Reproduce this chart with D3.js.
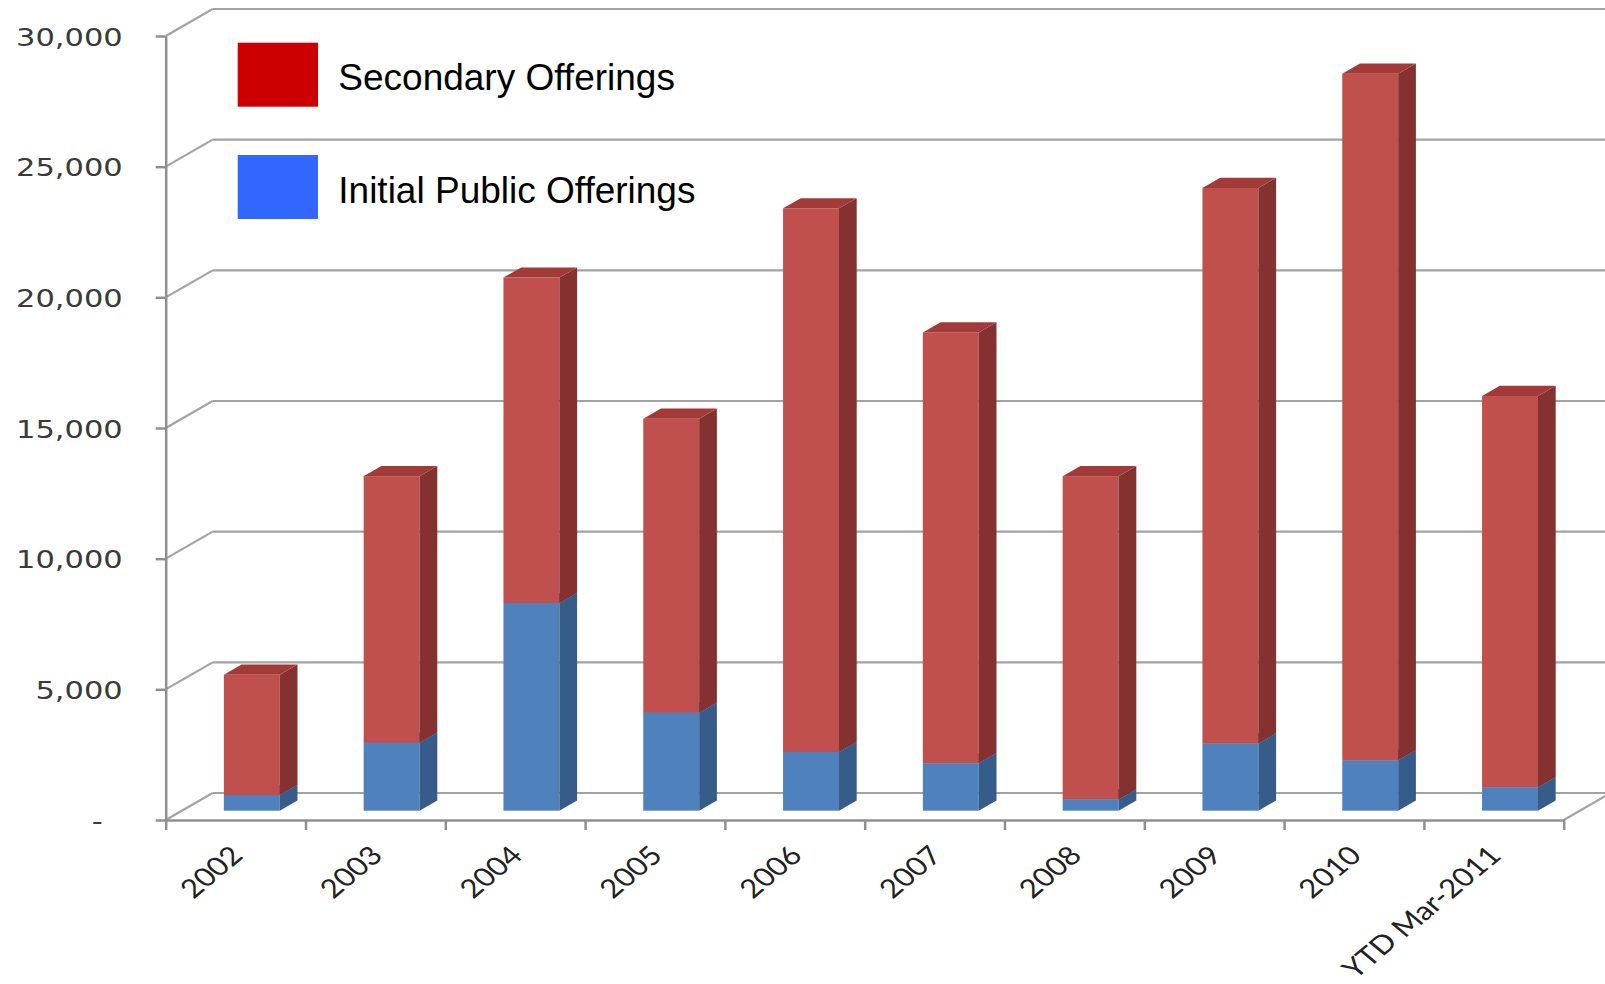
<!DOCTYPE html>
<html>
<head>
<meta charset="utf-8">
<script src="https://cdn.jsdelivr.net/npm/d3@7"></script>
<style>
  html, body { margin: 0; padding: 0; background: #ffffff; }
  svg { display: block; }
</style>
</head>
<body>
<svg id="chart" width="1605" height="984"></svg>
<script>
// ---- data ----
const categories = ["2002", "2003", "2004", "2005", "2006", "2007", "2008", "2009", "2010", "YTD Mar-2011"];
const ipoValues = [600, 2600, 7950, 3750, 2250, 1820, 430, 2570, 1930, 900];
const secondaryValues = [4600, 10200, 12450, 11250, 20800, 16480, 12370, 21260, 26270, 14970];
const seriesNames = ["Initial Public Offerings", "Secondary Offerings"];
const legendNames = ["Secondary Offerings", "Initial Public Offerings"];
const yTickValues = [0, 5000, 10000, 15000, 20000, 25000, 30000];

// ---- layout ----
const X0 = 165.7, X1 = 1563.7;      // front plane horizontal extent
const Y0 = 820, YT = 36;            // front plane zero / max
const DX = 47, DY = -27;            // depth vector of the 3D box
const D0 = 0.345, D1 = 0.722;       // bar depth range (fraction of box depth)

const svg = d3.select("#chart");

const y = d3.scaleLinear().domain([0, 30000]).range([Y0, YT]);
const x = d3.scaleBand().domain(categories).range([X0, X1]).paddingInner(0.6).paddingOuter(0.3);
const xEdge = d3.scaleLinear().domain([0, categories.length]).range([X0, X1]);

const gridColor = "#a3a3a3";

// back wall gridlines + side wall diagonals
const walls = svg.append("g");
yTickValues.forEach(v => {
  walls.append("line")
    .attr("x1", X0 + DX).attr("y1", y(v) + DY)
    .attr("x2", X1 + DX).attr("y2", y(v) + DY)
    .attr("stroke", gridColor).attr("stroke-width", 2.2);
  walls.append("line")
    .attr("x1", X0).attr("y1", y(v))
    .attr("x2", X0 + DX).attr("y2", y(v) + DY)
    .attr("stroke", gridColor).attr("stroke-width", 2.2);
});
// floor right edge
walls.append("line")
  .attr("x1", X1).attr("y1", Y0)
  .attr("x2", X1 + DX).attr("y2", Y0 + DY)
  .attr("stroke", gridColor).attr("stroke-width", 2.2);

// ---- bars ----
const rows = categories.map((c, i) => ({
  cat: c,
  "Initial Public Offerings": ipoValues[i],
  "Secondary Offerings": secondaryValues[i]
}));
const stack = d3.stack().keys(seriesNames);
const layers = stack(rows);

const palette = {
  "Initial Public Offerings": { front: "#4F81BD", side: "#365C8A", top: "#4270A8" },
  "Secondary Offerings": { front: "#C0504D", side: "#843130", top: "#A23B38" }
};

const bx = DX * D0, by = DY * D0;
const ddx = DX * (D1 - D0), ddy = DY * (D1 - D0);

const barsG = svg.append("g");
categories.forEach((c, i) => {
  const g = barsG.append("g");
  layers.forEach(layer => {
    const d = layer[i];
    const col = palette[layer.key];
    const xl = x(c) + bx, xr = x(c) + x.bandwidth() + bx;
    const yt = y(d[1]) + by, yb = y(d[0]) + by;
    g.append("rect")
      .attr("x", xl).attr("y", yt)
      .attr("width", xr - xl).attr("height", yb - yt)
      .attr("fill", col.front);
    g.append("path")
      .attr("d", `M${xr},${yt}L${xr + ddx},${yt + ddy}L${xr + ddx},${yb + ddy}L${xr},${yb}Z`)
      .attr("fill", col.side);
    g.append("path")
      .attr("d", `M${xl},${yt}L${xr},${yt}L${xr + ddx},${yt + ddy}L${xl + ddx},${yt + ddy}Z`)
      .attr("fill", col.top);
  });
});

// ---- y axis ----
const axisColor = "#8f8f8f";
const yAxis = d3.axisLeft(y)
  .tickValues(yTickValues)
  .tickSize(10)
  .tickSizeOuter(0)
  .tickFormat(v => v === 0 ? "-" : d3.format(",")(v));
const yG = svg.append("g")
  .attr("transform", `translate(${X0},0)`)
  .call(yAxis);
yG.select(".domain").attr("stroke", axisColor).attr("stroke-width", 2.5);
yG.selectAll(".tick line").attr("stroke", axisColor).attr("stroke-width", 2.5);
yG.selectAll(".tick text")
  .attr("font-family", "'DejaVu Sans', Verdana, sans-serif")
  .attr("font-size", 25)
  .attr("fill", "#3a3a3a")
  .attr("text-anchor", "end")
  .attr("dy", "0.36em")
  .attr("x", v => v === 0 ? -63 / 1.22 : -43 / 1.22)
  .attr("transform", "scale(1.22,1)");

// ---- x axis (ticks at category edges) ----
const xAxis = d3.axisBottom(xEdge)
  .tickValues(d3.range(categories.length + 1))
  .tickSize(10)
  .tickSizeOuter(0)
  .tickFormat("");
const xG = svg.append("g")
  .attr("transform", `translate(0,${Y0})`)
  .call(xAxis);
xG.select(".domain").attr("stroke", axisColor).attr("stroke-width", 2.5);
xG.selectAll(".tick line").attr("stroke", axisColor).attr("stroke-width", 2.5);

// category labels
const labG = svg.append("g");
categories.forEach(c => {
  const cx = x(c) + x.bandwidth() / 2;
  labG.append("text")
    .attr("transform", `translate(${cx + 9},${857}) scale(1.2,1) rotate(-45)`)
    .attr("text-anchor", "end")
    .attr("font-family", "Lato, 'Open Sans', sans-serif")
    .attr("font-size", 26)
    .attr("fill", "#222")
    .text(c);
});

// ---- legend ----
const legColors = ["#CC0000", "#3366FF"];
const legG = svg.append("g");
legendNames.forEach((name, i) => {
  const top = 42.7 + i * 112.3;
  legG.append("rect")
    .attr("x", 237.7).attr("y", top)
    .attr("width", 80.3).attr("height", 64)
    .attr("fill", legColors[i]);
  legG.append("text")
    .attr("x", 338.3).attr("y", top + 47.5)
    .attr("font-family", "'Liberation Sans', Arial, sans-serif")
    .attr("font-size", 37)
    .attr("fill", "#000")
    .text(name);
});
</script>
</body>
</html>
